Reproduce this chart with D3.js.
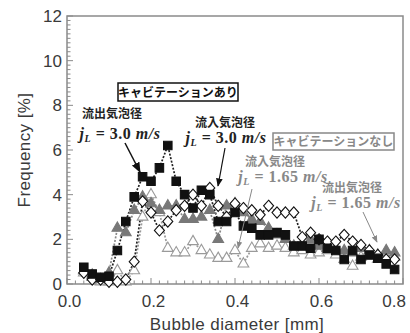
<!DOCTYPE html>
<html>
<head>
<meta charset="utf-8">
<script src="https://cdn.jsdelivr.net/npm/d3@7"></script>
<style>
  html, body { margin: 0; padding: 0; background: #fff; }
  svg { display: block; }
</style>
</head>
<body>
<svg id="chart" width="410" height="333"></svg>
<script>
// bin centres [mm]
const diameters = [0.04, 0.06, 0.08, 0.10, 0.12, 0.14, 0.16, 0.18, 0.20, 0.22, 0.24, 0.26, 0.28, 0.30, 0.32, 0.34, 0.36, 0.38, 0.40, 0.42,
  0.44, 0.46, 0.48, 0.50, 0.52, 0.54, 0.56, 0.58, 0.60, 0.62, 0.64, 0.66, 0.68, 0.70, 0.72, 0.74, 0.76, 0.78]

// outlet, j_L = 3.0 (cavitation) - black squares
const outlet30 = [0.75, 0.45, 0.3, 0.35, 1.5, 2.8, 3.9, 4.8, 4.6, 5.2, 6.2, 4.6, 4.0, 3.4, 4.2, 4.0, 2.8, 2.8, 3.2, 2.6,
  2.5, 2.2, 2.2, 2.3, 2.2, 1.7, 1.7, 1.6, 2.0, 1.6, 1.5, 1.1, 1.5, 1.1, 1.3, 1.15, 0.9, 0.65]
// inlet, j_L = 3.0 (cavitation) - open diamonds
const inlet30 = [0.5, 0.2, 0.2, 0.1, 0.1, 0.2, 1.0, 3.7, 3.2, 2.4, 2.8, 3.3, 3.5, 4.0, 3.5, 4.3, 3.5, 3.0, 3.6, 3.4,
  3.3, 3.1, 3.5, 3.2, 3.2, 3.2, 2.1, 2.3, 2.0, 1.9, 1.9, 2.2, 1.9, 1.75, 1.5, 1.3, 1.1, 1.1]
// outlet, j_L = 1.65 (no cavitation) - grey triangles
const outlet165 = [0.6, 0.4, 0.2, 0.5, 2.5, 2.3, 3.3, 3.9, 3.6, 3.3, 3.5, 3.5, 2.9, 2.9, 3.0, 3.3, 2.0, 3.5, 3.6, 3.2,
  2.9, 2.8, 2.5, 2.2, 2.0, 1.7, 1.8, 2.0, 1.7, 1.6, 1.6, 1.5, 1.4, 1.6, 1.5, 1.3, 1.5, 1.4]
// inlet, j_L = 1.65 (no cavitation) - open triangles
const inlet165 = [0.5, 0.3, 0.1, 0.1, 0.6, 0.1, 0.6, 3.0, 4.0, 3.2, 1.6, 1.4, 1.4, 1.9, 1.5, 1.3, 1.15, 1.15, 1.5, 0.9,
  1.6, 1.8, 1.6, 1.7, 1.6, 1.4, 1.5, 1.3, 1.4, 1.5, 1.3, 1.1, 0.8, 1.2, 1.3, 1.1, 1.2, 1.2]

const xTicks = [0, 0.2, 0.4, 0.6, 0.8]
const yTicks = [0, 2, 4, 6, 8, 10, 12]

const margin = { top: 16, right: 7, bottom: 49, left: 67 }
const width = 410 - margin.left - margin.right
const height = 333 - margin.top - margin.bottom

const svg = d3.select('#chart')
const g = svg.append('g').attr('transform', `translate(${margin.left},${margin.top})`)

const x = d3.scaleLinear().domain([0, 0.8]).range([0, width])
const y = d3.scaleLinear().domain([0, 12]).range([height, 0])

const frameColor = '#8a8a8a'
const labelColor = '#3a3a3a'
const sans = '"Liberation Sans", Arial, sans-serif'

// minor ticks
g.append('g').selectAll('line')
  .data(d3.range(0, 0.8001, 0.02))
  .join('line')
  .attr('x1', (d) => x(d)).attr('x2', (d) => x(d))
  .attr('y1', height).attr('y2', (d, i) => height - (i % 10 === 0 ? 6 : 3.5))
  .attr('stroke', frameColor).attr('stroke-width', 1)

g.append('g').selectAll('line')
  .data(d3.range(0, 12.001, 0.2))
  .join('line')
  .attr('y1', (d) => y(d)).attr('y2', (d) => y(d))
  .attr('x1', 0).attr('x2', (d, i) => (i % 10 === 0 ? 6 : 3.5))
  .attr('stroke', frameColor).attr('stroke-width', 1)

g.append('rect')
  .attr('width', width).attr('height', height)
  .attr('fill', 'none').attr('stroke', frameColor).attr('stroke-width', 1.5)

// tick labels
g.append('g').selectAll('text')
  .data(xTicks)
  .join('text')
  .attr('x', (d, i) => (i === xTicks.length - 1 ? width + 3 : x(d) + 2.5))
  .attr('y', height + 23)
  .attr('text-anchor', (d, i) => (i === xTicks.length - 1 ? 'end' : 'middle'))
  .attr('font-family', sans).attr('font-size', 17)
  .attr('fill', labelColor)
  .text((d) => d.toFixed(1))

g.append('g').selectAll('text')
  .data(yTicks)
  .join('text')
  .attr('x', -5).attr('y', (d) => y(d) + 6)
  .attr('text-anchor', 'end')
  .attr('font-family', sans).attr('font-size', 17)
  .attr('fill', labelColor)
  .text((d) => d)

// axis titles
svg.append('text')
  .attr('x', 237).attr('y', 330)
  .attr('text-anchor', 'middle')
  .attr('font-family', sans).attr('font-size', 17)
  .attr('letter-spacing', 0.4)
  .attr('fill', labelColor)
  .text('Bubble diameter [mm]')

svg.append('text')
  .attr('transform', 'translate(30,150) rotate(-90)')
  .attr('text-anchor', 'middle')
  .attr('font-family', sans).attr('font-size', 17)
  .attr('letter-spacing', 0.4)
  .attr('fill', labelColor)
  .text('Frequency [%]')

// series
const diamond = { draw(ctx, size) { ctx.moveTo(0, -5.6); ctx.lineTo(5, 0); ctx.lineTo(0, 5.6); ctx.lineTo(-5, 0); ctx.closePath() } }

const series = [
  { values: inlet165, symbol: d3.symbolTriangle, size: 50, fill: '#fff', stroke: '#9a9a9a', line: '#9a9a9a' },
  { values: outlet165, symbol: d3.symbolTriangle, size: 50, fill: '#787878', stroke: '#787878', line: '#888' },
  { values: inlet30, symbol: diamond, size: 1, fill: '#fff', stroke: '#111', line: '#222' },
  { values: outlet30, symbol: d3.symbolSquare, size: 72, fill: '#111', stroke: '#111', line: '#222' },
]

const line = d3.line()
  .x((d) => x(d[0]))
  .y((d) => y(d[1]))

series.forEach((s) => {
  const pts = diameters.map((d, i) => [d, s.values[i]])
  g.append('path')
    .datum(pts)
    .attr('fill', 'none')
    .attr('stroke', s.line)
    .attr('stroke-width', 1.7)
    .attr('stroke-dasharray', '2,1.6')
    .attr('d', line)
})

series.forEach((s) => {
  const pts = diameters.map((d, i) => [d, s.values[i]])
  g.append('g').selectAll('path')
    .data(pts)
    .join('path')
    .attr('transform', (d) => `translate(${x(d[0])},${y(d[1])})`)
    .attr('d', d3.symbol(s.symbol, s.size))
    .attr('fill', s.fill)
    .attr('stroke', s.stroke)
    .attr('stroke-width', 1.1)
})

// annotations
const jpFont = '"Noto Sans CJK JP", sans-serif'
const mathFont = '"Liberation Serif", "DejaVu Serif", serif'

function label(cx, cy, text, color) {
  svg.append('text')
    .attr('x', cx).attr('y', cy)
    .attr('text-anchor', 'middle')
    .attr('font-family', jpFont).attr('font-weight', 'bold').attr('font-size', 12)
    .attr('fill', color)
    .text(text)
}

function jLabel(cx, cy, value, color) {
  const t = svg.append('text')
    .attr('x', cx).attr('y', cy)
    .attr('text-anchor', 'middle')
    .attr('font-family', mathFont).attr('font-weight', 'bold').attr('font-size', 16)
    .attr('letter-spacing', 0.5)
    .attr('fill', color)
  t.append('tspan').attr('font-style', 'italic').text('j')
  t.append('tspan').attr('font-style', 'italic').attr('font-size', 10).attr('dy', 3).text('L')
  t.append('tspan').attr('dy', -3).text(` = ${value} `)
  t.append('tspan').attr('font-style', 'italic').text('m/s')
}

function box(x0, y0, w, h, text, color) {
  svg.append('rect')
    .attr('x', x0).attr('y', y0).attr('width', w).attr('height', h)
    .attr('fill', '#fff').attr('stroke', color).attr('stroke-width', 1.5)
  svg.append('text')
    .attr('x', x0 + w / 2).attr('y', y0 + h / 2 + 4.5)
    .attr('text-anchor', 'middle')
    .attr('font-family', jpFont).attr('font-weight', 'bold').attr('font-size', 12)
    .attr('fill', color)
    .text(text)
}

const defs = svg.append('defs')
function marker(id, color) {
  defs.append('marker')
    .attr('id', id).attr('viewBox', '0 0 10 10').attr('refX', 9).attr('refY', 5)
    .attr('markerWidth', 7).attr('markerHeight', 7).attr('orient', 'auto')
    .append('path').attr('d', 'M0,1 L10,5 L0,9 Z').attr('fill', color)
}
marker('arrowBlack', '#111')
marker('arrowGrey', '#888')

function arrow(x1, y1, x2, y2, color, id, w) {
  svg.append('line')
    .attr('x1', x1).attr('y1', y1).attr('x2', x2).attr('y2', y2)
    .attr('stroke', color).attr('stroke-width', w)
    .attr('marker-end', `url(#${id})`)
}

box(118, 83, 120, 18, 'キャビテーションあり', '#111')
box(273, 133, 121, 17, 'キャビテーションなし', '#888')

label(112, 118, '流出気泡径', '#222')
jLabel(120, 139, '3.0', '#222')
arrow(125, 143, 140, 172, '#111', 'arrowBlack', 1.5)

label(225, 127, '流入気泡径', '#222')
jLabel(226, 143, '3.0', '#222')
arrow(225, 148, 218, 186, '#111', 'arrowBlack', 1.2)

label(275, 166, '流入気泡径', '#888')
jLabel(283, 182, '1.65', '#888')
arrow(252, 189, 238, 248, '#888', 'arrowGrey', 1)

label(352, 192, '流出気泡径', '#888')
jLabel(356, 208, '1.65', '#888')
arrow(363, 212, 377, 242, '#888', 'arrowGrey', 1)
</script>
</body>
</html>
